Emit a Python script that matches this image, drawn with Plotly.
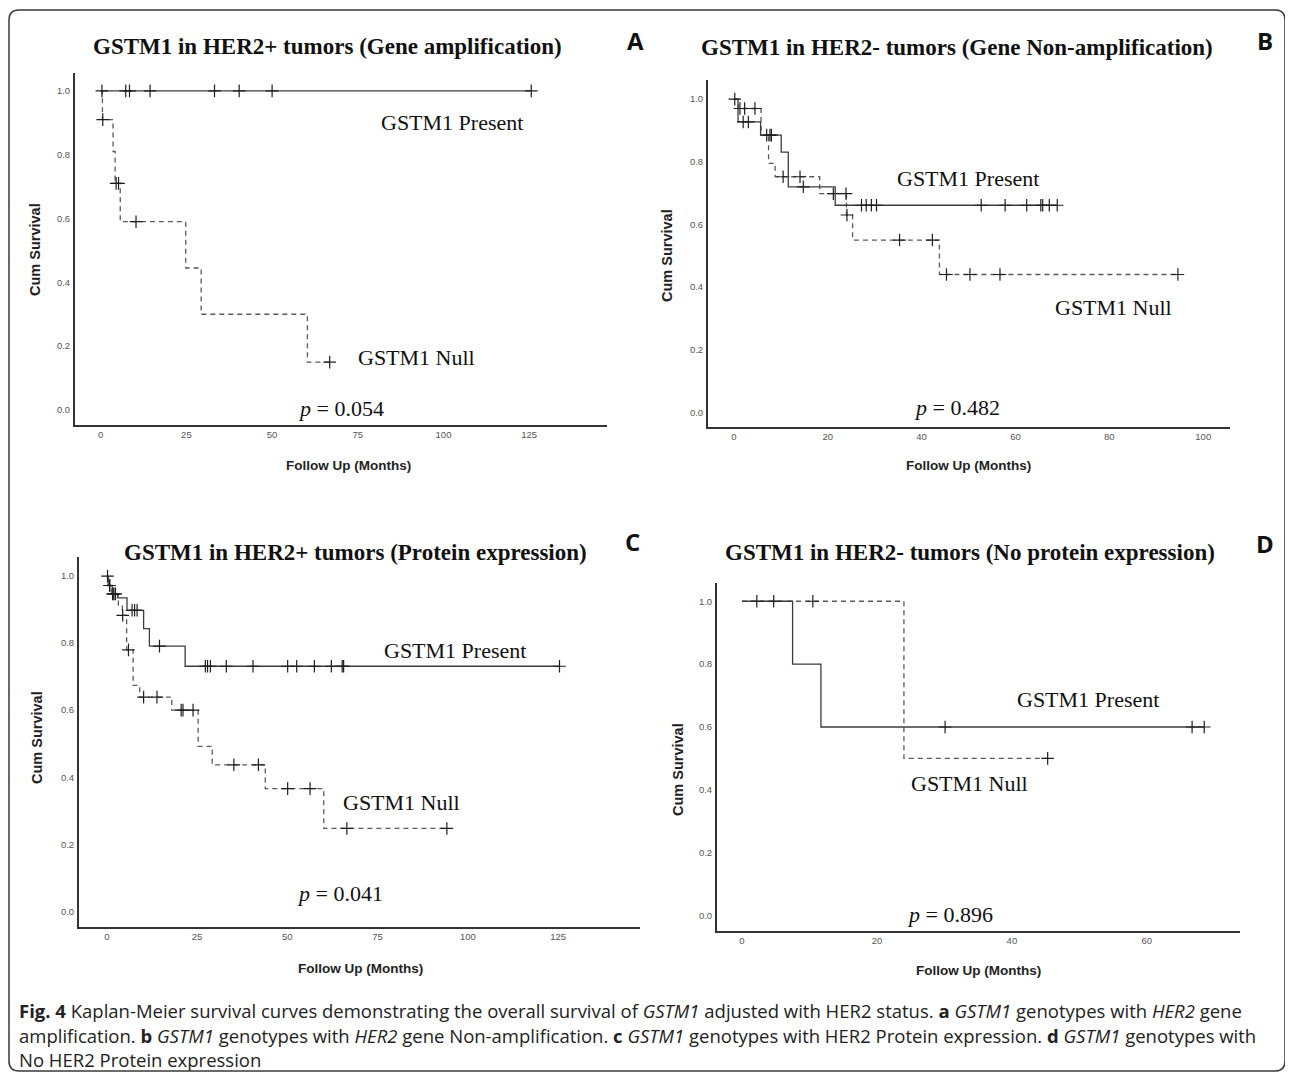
import numpy as np
import plotly.graph_objects as go

# ---------------- data ----------------
# Panel A: HER2+ (gene amplification)
A_present_t = []
A_present_s = []
A_present_c = [0.35, 7.3, 8.4, 14.4, 33.2, 40.4, 50.0, 125.6]
A_null_t = [0.5, 3.6, 4.2, 5.7, 24.8, 29.3, 60.3]
A_null_s = [0.91, 0.81, 0.71, 0.59, 0.445, 0.30, 0.15]
A_null_c = [0.6, 4.5, 5.2, 10.3, 66.8]

# Panel B: HER2- (gene non-amplification)
B_present_t = [0.9, 5.7, 10.1, 11.6, 21.6]
B_present_s = [0.927, 0.885, 0.831, 0.72, 0.661]
B_present_c = [0.2, 2.0, 3.1, 7.7, 8.0, 14.8, 27.2, 28.2, 29.3, 30.4,
               52.7, 57.8, 62.4, 65.4, 65.8, 67.2, 68.9]
B_null_t = [0.9, 5.8, 7.4, 8.8, 18.3, 24.0, 25.3, 43.8]
B_null_s = [0.97, 0.885, 0.795, 0.752, 0.698, 0.63, 0.55, 0.44]
B_null_c = [1.3, 2.3, 4.5, 7.0, 10.5, 14.1, 21.2, 23.9, 24.1, 35.3, 42.3,
            45.3, 50.3, 56.7, 94.6]

# Panel C: HER2+ (protein expression)
C_present_t = [0.4, 1.5, 3.0, 5.6, 10.2, 11.8, 21.7]
C_present_s = [0.972, 0.947, 0.935, 0.898, 0.843, 0.791, 0.731]
C_present_c = [0.2, 0.8, 1.8, 2.4, 7.0, 7.7, 8.4, 14.6, 27.3, 27.9, 28.7,
               33.1, 40.5, 50.1, 52.6, 57.5, 62.2, 65.2, 65.6, 125.4]
C_null_t = [0.3, 1.4, 3.2, 4.3, 5.5, 7.3, 9.1, 18.0, 25.3, 29.2, 43.9, 60.1]
C_null_s = [0.972, 0.947, 0.91, 0.883, 0.78, 0.674, 0.639, 0.60, 0.492,
            0.437, 0.366, 0.247]
C_null_c = [0.8, 1.6, 2.3, 4.4, 6.0, 10.2, 13.9, 20.6, 21.1, 23.9, 35.2,
            42.0, 50.1, 56.3, 66.5, 94.2]

# Panel D: HER2- (no protein expression)
D_present_t = [7.5, 11.7]
D_present_s = [0.80, 0.60]
D_present_c = [2.2, 4.7, 30.1, 66.7, 68.5]
D_null_t = [24.0]
D_null_s = [0.50]
D_null_c = [10.5, 45.3]

titles = ["GSTM1 in HER2+ tumors (Gene amplification)",
          "GSTM1 in HER2- tumors (Gene Non-amplification)",
          "GSTM1 in HER2+ tumors (Protein expression)",
          "GSTM1 in HER2- tumors (No protein expression)"]
letters = ["A", "B", "C", "D"]
p_values = ["0.054", "0.482", "0.041", "0.896"]
x_ticks = [[0, 25, 50, 75, 100, 125], [0, 20, 40, 60, 80, 100],
           [0, 25, 50, 75, 100, 125], [0, 20, 40, 60]]
y_ticks = [0.0, 0.2, 0.4, 0.6, 0.8, 1.0]
y_tick_text = ["0.0", "0.2", "0.4", "0.6", "0.8", "1.0"]

# ---------------- layout geometry (page pixels) ----------------
OFF = 8                      # page body margin
W, H = 1293 - OFF, 1073 - OFF
boxes = [(75, 607, 73, 425), (708, 1230, 80, 427),
         (79, 640, 557, 927), (717, 1240, 583, 931)]
x_ranges = [[-7.5, 147.7], [-5.5, 105.7], [-7.7, 147.7], [-3.7, 73.8]]
y_ranges = [[-0.047, 1.056], [-0.047, 1.061], [-0.047, 1.057], [-0.049, 1.058]]
title_pos = [(327, 47), (957, 48), (355, 552), (970, 552)]
letter_pos = [(635, 40), (1265, 40), (632, 541), (1265, 543)]
ylab_pos = [(35, 250), (667, 255), (37, 738), (678, 770)]
xlab_pos = [(348, 465), (968, 465), (360, 968), (978, 970)]
present_lab = [(102.5, 0.90), (49.8, 0.747), (96.5, 0.778), (51.3, 0.686)]
null_lab = [(92, 0.166), (80.8, 0.334), (81.5, 0.325), (33.7, 0.419)]
p_lab = [(70, 0.006), (47.5, 0.015), (64.6, 0.054), (30.8, 0.003)]

panels = [
    (A_present_t, A_present_s, A_present_c, A_null_t, A_null_s, A_null_c),
    (B_present_t, B_present_s, B_present_c, B_null_t, B_null_s, B_null_c),
    (C_present_t, C_present_s, C_present_c, C_null_t, C_null_s, C_null_c),
    (D_present_t, D_present_s, D_present_c, D_null_t, D_null_s, D_null_c),
]


def px(x):
    return (x - OFF) / W


def py(y):
    return 1 - (y - OFF) / H


def step_curve(t, s, c):
    t = list(t); s = list(s)
    end = max([0] + t + list(c))
    xs = [0] + t + [end]
    ys = [1.0] + s + [s[-1] if s else 1.0]
    return xs, ys


def surv_at(t, s, c):
    t = np.array(t, dtype=float); s = np.array(s, dtype=float)
    c = np.array(c, dtype=float)
    full = np.concatenate([[1.0], s])
    idx = np.searchsorted(t, c, side="right")
    return full[idx]


fig = go.Figure()
annotations = []
present_col = "#3c3c3c"
null_col = "#5a5a5a"
mark_col = "#1e1e1e"
serif = "Liberation Serif, Times New Roman, serif"
sans = "Liberation Sans, Arial, sans-serif"

for i, (pt, ps, pc, nt, ns, nc) in enumerate(panels):
    xa = "x" if i == 0 else f"x{i+1}"
    ya = "y" if i == 0 else f"y{i+1}"
    xs, ys = step_curve(nt, ns, nc)
    fig.add_trace(go.Scatter(x=xs, y=ys, mode="lines", line_shape="hv",
                             line=dict(color=null_col, width=1.3, dash="5px,4px"),
                             xaxis=xa, yaxis=ya, showlegend=False, hoverinfo="skip"))
    fig.add_trace(go.Scatter(x=nc, y=surv_at(nt, ns, nc), mode="markers",
                             marker=dict(symbol="cross-thin-open", size=9, color=mark_col,
                                         line=dict(color=mark_col, width=1.2)),
                             xaxis=xa, yaxis=ya, showlegend=False))
    xs, ys = step_curve(pt, ps, pc)
    fig.add_trace(go.Scatter(x=xs, y=ys, mode="lines", line_shape="hv",
                             line=dict(color=present_col, width=1.3),
                             xaxis=xa, yaxis=ya, showlegend=False, hoverinfo="skip"))
    fig.add_trace(go.Scatter(x=pc, y=surv_at(pt, ps, pc), mode="markers",
                             marker=dict(symbol="cross-thin-open", size=9, color=mark_col,
                                         line=dict(color=mark_col, width=1.2)),
                             xaxis=xa, yaxis=ya, showlegend=False))

    l, r, tp, bt = boxes[i]
    axis_common = dict(showline=True, linecolor="#333333", linewidth=2,
                       showgrid=False, zeroline=False, ticks="",
                       tickfont=dict(family=sans, size=9.5, color="#555555"))
    fig.layout[("xaxis" if i == 0 else f"xaxis{i+1}")] = dict(
        domain=[px(l), px(r)], range=x_ranges[i], anchor=ya,
        tickvals=x_ticks[i], ticktext=[str(v) for v in x_ticks[i]],
        ticklabelstandoff=0, **axis_common)
    fig.layout[("yaxis" if i == 0 else f"yaxis{i+1}")] = dict(
        domain=[py(bt), py(tp)], range=y_ranges[i], anchor=xa,
        tickvals=y_ticks, ticktext=y_tick_text, ticklabelstandoff=1, **axis_common)

    annotations.append(dict(text=f"<b>{titles[i]}</b>", x=px(title_pos[i][0]), y=py(title_pos[i][1]),
                            xref="paper", yref="paper", showarrow=False,
                            font=dict(family=serif, size=23, color="#111111"),
                            xanchor="center", yanchor="middle"))
    annotations.append(dict(text=f"<b>{letters[i]}</b>", x=px(letter_pos[i][0]), y=py(letter_pos[i][1]),
                            xref="paper", yref="paper", showarrow=False,
                            font=dict(family="Open Sans, sans-serif", size=24, color="#111111"),
                            xanchor="center", yanchor="middle"))
    annotations.append(dict(text="<b>Cum Survival</b>", x=px(ylab_pos[i][0]), y=py(ylab_pos[i][1]),
                            xref="paper", yref="paper", showarrow=False, textangle=-90,
                            font=dict(family=sans, size=14.5, color="#222222"),
                            xanchor="center", yanchor="middle"))
    annotations.append(dict(text="<b>Follow Up (Months)</b>", x=px(xlab_pos[i][0]), y=py(xlab_pos[i][1]),
                            xref="paper", yref="paper", showarrow=False,
                            font=dict(family=sans, size=13.5, color="#222222"),
                            xanchor="center", yanchor="middle"))
    annotations.append(dict(text="GSTM1 Present", x=present_lab[i][0], y=present_lab[i][1],
                            xref=xa, yref=ya, showarrow=False,
                            font=dict(family=serif, size=22, color="#111111"),
                            xanchor="center", yanchor="middle"))
    annotations.append(dict(text="GSTM1 Null", x=null_lab[i][0], y=null_lab[i][1],
                            xref=xa, yref=ya, showarrow=False,
                            font=dict(family=serif, size=22, color="#111111"),
                            xanchor="center", yanchor="middle"))
    annotations.append(dict(text=f"<i>p</i> = {p_values[i]}", x=p_lab[i][0], y=p_lab[i][1],
                            xref=xa, yref=ya, showarrow=False,
                            font=dict(family=serif, size=22, color="#111111"),
                            xanchor="center", yanchor="middle"))

caption_lines = [
    "<b>Fig. 4</b> Kaplan-Meier survival curves demonstrating the overall survival of <i>GSTM1</i> adjusted with HER2 status. <b>a</b> <i>GSTM1</i> genotypes with <i>HER2</i> gene",
    "amplification. <b>b</b> <i>GSTM1</i> genotypes with <i>HER2</i> gene Non-amplification. <b>c</b> <i>GSTM1</i> genotypes with HER2 Protein expression. <b>d</b> <i>GSTM1</i> genotypes with",
    "No HER2 Protein expression",
]
cap_y = [1010, 1035, 1059]
for line, yy in zip(caption_lines, cap_y):
    annotations.append(dict(text=line, x=px(17), y=py(yy), xref="paper", yref="paper",
                            showarrow=False, xanchor="left", yanchor="middle",
                            font=dict(family="Open Sans, sans-serif", size=18.5, color="#222222")))

# outer rounded frame
L, R, T, B, rad = 9, 1285, 10, 1071, 10
path = (f"M {px(L+rad)} {py(T)} L {px(R-rad)} {py(T)} Q {px(R)} {py(T)} {px(R)} {py(T+rad)} "
        f"L {px(R)} {py(B-rad)} Q {px(R)} {py(B)} {px(R-rad)} {py(B)} "
        f"L {px(L+rad)} {py(B)} Q {px(L)} {py(B)} {px(L)} {py(B-rad)} "
        f"L {px(L)} {py(T+rad)} Q {px(L)} {py(T)} {px(L+rad)} {py(T)} Z")
fig.add_shape(type="path", path=path, xref="paper", yref="paper",
              line=dict(color="#3a3a3a", width=1.5))

fig.update_layout(width=W, height=H, margin=dict(l=0, r=0, t=0, b=0),
                  paper_bgcolor="white", plot_bgcolor="white",
                  annotations=annotations, showlegend=False)

fig.write_html("out.html")
